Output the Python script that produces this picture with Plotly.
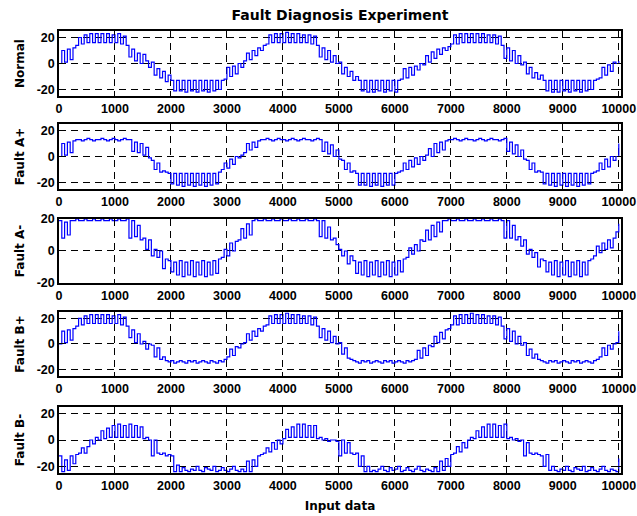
import plotly.graph_objects as go

# sample positions (every 50 input samples)
sample_index = list(range(0, 10001, 50))

normal = [
    0, 10, 1, 11, 3, 12, 14, 20, 15, 22, 16, 23, 16, 23, 16, 23, 16, 23, 16, 22,
    16, 23, 15, 21, 14, 5, 11, 2, 8, 0, 7, 2, -3, 1, -9, -4, -11, -6, -14, -9,
    -13, -21, -13, -21, -13, -22, -13, -21, -13, -22, -13, -21, -13, -22, -13, -21, -13, -20, -13, -12,
    -3, -10, -2, -8, 0, -3, 2, 8, 3, 10, 6, 12, 10, 14, 15, 22, 16, 23, 16, 23,
    16, 24, 16, 23, 16, 23, 16, 22, 16, 22, 15, 21, 14, 5, 12, 3, 10, 1, 6, 0,
    1, -8, -3, -10, -6, -13, -10, -13, -21, -13, -22, -13, -22, -13, -21, -13, -22, -13, -21, -13,
    -22, -13, -12, -4, -11, -3, -9, -2, -5, 0, -1, 6, 1, 9, 4, 11, 7, 12, 10, 13,
    15, 22, 15, 23, 16, 23, 16, 23, 16, 23, 16, 23, 16, 22, 16, 22, 15, 21, 14, 4,
    12, 2, 10, 0, 6, -1, 1, -8, -3, -11, -7, -12, -9, -13, -21, -13, -22, -13, -22, -13,
    -21, -13, -22, -13, -21, -13, -22, -13, -21, -13, -20, -13, -12, -11, -3, -9, -1, -6, 1, 0,
    2,
]

fault_a_plus = [
    0, 10, 1, 11, 3, 12, 13, 13, 12, 13, 14, 13, 12, 13, 13, 14, 13, 12, 13, 14,
    13, 12, 13, 14, 13, 13, 4, 11, 3, 10, 1, 7, -1, -3, -10, -5, -12, -11, -12, -13,
    -21, -13, -22, -13, -23, -13, -22, -13, -23, -13, -22, -13, -23, -13, -22, -13, -21, -12, -10, -5,
    -9, -2, -6, 0, -1, 1, 3, 10, 5, 11, 7, 12, 13, 13, 14, 13, 12, 13, 14, 13,
    13, 12, 13, 14, 13, 12, 13, 14, 13, 13, 12, 13, 14, 13, 4, 11, 2, 9, 0, 5,
    -2, -3, -10, -5, -12, -11, -13, -22, -13, -22, -13, -23, -13, -22, -13, -23, -13, -22, -13, -22,
    -13, -12, -11, -5, -10, -3, -8, -1, -6, 0, -3, 1, 6, 0, 10, 3, 11, 5, 12, 13,
    13, 14, 13, 12, 13, 14, 13, 13, 12, 13, 14, 13, 12, 13, 14, 13, 13, 12, 13, 14,
    4, 11, 2, 9, 0, 5, -2, -3, -10, -5, -12, -11, -12, -21, -13, -22, -13, -23, -13, -22,
    -13, -23, -13, -22, -13, -23, -13, -22, -13, -21, -13, -12, -11, -5, -10, -2, -8, 0, -3, 0,
    10,
]

fault_a_minus = [
    19, 8, 18, 10, 19, 19, 20, 19, 19, 20, 19, 19, 20, 19, 19, 20, 19, 19, 20, 19,
    19, 20, 19, 19, 20, 8, 19, 9, 16, 7, 8, 1, 7, -3, 1, -4, 0, -11, -5, -6,
    -13, -7, -15, -6, -16, -7, -15, -6, -16, -7, -15, -6, -16, -7, -15, -6, -14, -5, -4, 1,
    -3, 5, 0, 6, 7, 14, 8, 17, 10, 19, 20, 19, 19, 20, 19, 19, 20, 19, 19, 20,
    19, 19, 20, 19, 19, 20, 19, 19, 20, 19, 19, 20, 19, 9, 19, 8, 15, 7, 8, 4,
    1, -3, 0, -8, -3, -6, -14, -7, -15, -6, -16, -7, -15, -6, -16, -7, -15, -6, -16, -7,
    -15, -6, -13, -5, -4, 2, -2, 4, 0, 7, 6, 13, 7, 16, 9, 18, 12, 19, 19, 20,
    19, 19, 20, 19, 19, 20, 19, 19, 20, 19, 19, 20, 19, 19, 20, 19, 19, 20, 19, 8,
    19, 8, 16, 7, 9, 3, 7, -2, 1, -4, -1, -10, -5, -6, -13, -7, -15, -6, -16, -7,
    -15, -6, -16, -7, -15, -6, -16, -7, -15, -6, -5, -3, 3, -1, 5, 1, 7, 2, 8, 12,
    17,
]

fault_b_plus = [
    0, 10, 1, 11, 3, 12, 14, 20, 15, 22, 16, 23, 16, 23, 16, 23, 16, 23, 16, 22,
    16, 23, 15, 21, 14, 5, 11, 1, 8, 0, 2, -4, 0, -1, -10, -3, -12, -10, -13, -14,
    -13, -15, -14, -13, -14, -15, -13, -14, -13, -15, -14, -13, -14, -15, -13, -14, -15, -13, -14, -12,
    -10, -4, -9, -2, -3, 0, 1, 8, 3, 10, 6, 12, 10, 14, 15, 22, 16, 23, 16, 23,
    16, 24, 16, 23, 16, 23, 16, 22, 16, 22, 15, 21, 14, 5, 12, 3, 10, 1, 6, 0,
    1, -8, -3, -11, -12, -13, -14, -15, -13, -14, -13, -15, -14, -13, -14, -15, -13, -14, -13, -15,
    -14, -13, -14, -15, -13, -14, -13, -12, -5, -11, -3, -9, -1, -2, 6, 1, 9, 4, 11, 12,
    15, 22, 15, 23, 16, 23, 16, 24, 16, 23, 16, 23, 16, 22, 16, 22, 15, 21, 14, 4,
    12, 2, 10, 0, 6, -1, 1, -9, -4, -11, -8, -12, -13, -14, -15, -13, -14, -13, -15, -14,
    -13, -14, -15, -13, -14, -13, -15, -14, -13, -14, -15, -13, -12, -10, -3, -9, -1, -4, 0, 1,
    10,
]

fault_b_minus = [
    -12, -24, -15, -23, -12, -18, -11, -10, -6, -10, -5, 0, -3, 2, 0, 7, 1, 9, 2, 11,
    2, 12, 2, 11, 2, 12, 2, 11, 2, 10, 1, 2, 0, -12, 0, -10, -11, -10, -12, -11,
    -12, -24, -19, -24, -21, -23, -24, -22, -23, -20, -23, -24, -21, -22, -23, -20, -24, -23, -21, -23,
    -24, -22, -20, -23, -24, -22, -24, -16, -24, -15, -20, -12, -11, -10, -6, -9, -2, -7, 0, -3,
    1, 8, 2, 10, 2, 12, 2, 12, 2, 11, 2, 11, 1, 2, 0, 1, -1, 0, 0, -1,
    -12, 0, -10, -2, -10, -11, -10, -20, -12, -24, -20, -24, -23, -24, -22, -20, -23, -24, -21, -23,
    -22, -20, -24, -23, -21, -23, -24, -22, -20, -23, -24, -22, -23, -24, -21, -24, -16, -23, -14, -20,
    -11, -10, -5, -9, -2, -6, 0, 2, 1, 7, 2, 10, 2, 12, 2, 12, 2, 11, 2, 12,
    1, 2, 0, 1, -1, 0, -12, -2, -10, -11, -10, -11, -12, -20, -11, -23, -20, -23, -24, -22,
    -23, -20, -23, -24, -21, -22, -23, -20, -24, -23, -21, -23, -24, -22, -20, -23, -24, -22, -23, -24,
    -14,
]

panel_names = ["Normal", "Fault A+", "Fault A-", "Fault B+", "Fault B-"]
panel_series = [normal, fault_a_plus, fault_a_minus, fault_b_plus, fault_b_minus]
panel_yranges = [[-25, 25], [-25, 25], [-20, 20], [-25, 25], [-25, 25]]
x_ticks = list(range(0, 10001, 1000))
x_tick_labels = [str(v) for v in x_ticks]
y_ticks = [-20, 0, 20]
y_tick_labels = ["-20", "0", "20"]

title_text = "Fault Diagnosis Experiment"
xlabel_text = "Input data"

domains = [(0.853, 1.0), (0.6425, 0.7896), (0.4299, 0.5747), (0.2195, 0.3643), (0.0, 0.1493)]

FONT = "DejaVu Sans"
TICK_FONT = "Liberation Sans"
tick_font = dict(family=TICK_FONT, size=12.5, color="black", weight="bold")

fig = go.Figure()
layout = {}
for i, (name, ys, yr) in enumerate(zip(panel_names, panel_series, panel_yranges), start=1):
    sfx = "" if i == 1 else str(i)
    fig.add_trace(go.Scatter(
        x=sample_index[:len(ys)], y=ys, mode="lines", line_shape="hv",
        line=dict(color="#0000ff", width=1.2), xaxis="x" + sfx, yaxis="y" + sfx,
        showlegend=False, hoverinfo="skip",
    ))
    common = dict(
        showline=True, linecolor="black", linewidth=1.5, mirror="ticks",
        ticks="inside", ticklen=4, tickcolor="black", tickwidth=1,
        showgrid=True, gridcolor="black", gridwidth=1, griddash="7px,5px",
        zeroline=False, tickfont=tick_font, ticklabeloverflow="allow",
        automargin=False,
    )
    xa = dict(common, domain=[0, 1], range=[0, 10040], tickmode="array",
              tickvals=x_ticks, ticktext=x_tick_labels, anchor="y" + sfx)
    if i == 5:
        xa["title"] = dict(text=xlabel_text, standoff=10,
                           font=dict(family=FONT, size=12, color="black", weight="bold"))
    ya = dict(common, domain=list(domains[i - 1]), range=yr, tickmode="array",
              tickvals=y_ticks, ticktext=y_tick_labels, anchor="x" + sfx,
              title=dict(text=name, standoff=9,
                         font=dict(family=FONT, size=12, color="black", weight="bold")))
    layout["xaxis" + sfx] = xa
    layout["yaxis" + sfx] = ya

fig.update_layout(**layout)
fig.update_layout(
    width=637, height=516,
    margin=dict(l=59, r=16, t=31, b=43, autoexpand=False),
    paper_bgcolor="white", plot_bgcolor="white",
    font=dict(family=FONT, size=12, color="black", weight="bold"),
    title=dict(text=title_text, x=0.5, xref="paper", y=1 - 15 / 516, yref="container",
               yanchor="middle", xanchor="center",
               font=dict(family=FONT, size=14, color="black", weight="bold")),
)

fig.write_html("out.html")
